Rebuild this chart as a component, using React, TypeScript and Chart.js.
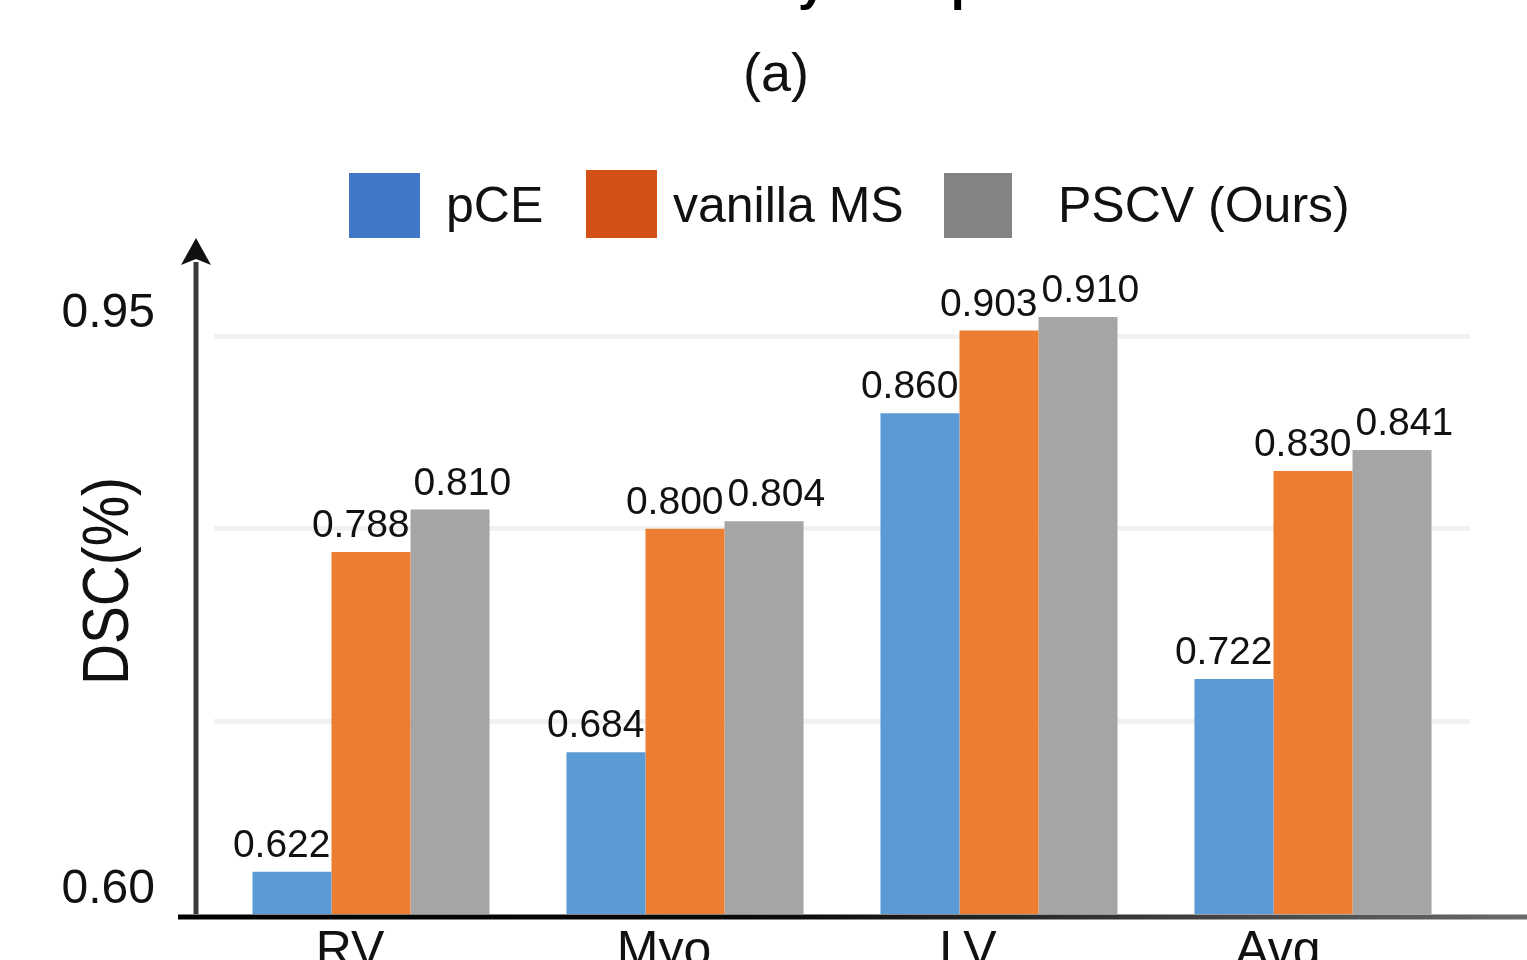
import React, { useEffect, useRef } from 'react';
import { Chart, registerables } from 'chart.js';

Chart.register(...registerables);

const categories = ['RV', 'Myo', 'LV', 'Avg'];
const pceValues = [0.622, 0.684, 0.860, 0.722];
const vanillaValues = [0.788, 0.800, 0.903, 0.830];
const pscvValues = [0.810, 0.804, 0.910, 0.841];
const seriesNames = ['pCE', 'vanilla MS', 'PSCV (Ours)'];
const yTickValues = [0.60, 0.95];
const yTickLabels = ['0.60', '0.95'];
const gridValues = [0.7, 0.8, 0.9];
const titleText = 'Accuracy Comparison';
const subtitleText = '(a)';
const yAxisTitle = 'DSC(%)';

const barColors = ['#5B9BD5', '#ED7D31', '#A5A5A5'];
const legendColors = ['#4276C6', '#D35016', '#838383'];
const FONT = '"Liberation Sans", Arial, Helvetica, sans-serif';

const decorPlugin = {
  id: 'decor',
  afterDraw(chart: any) {
    const { ctx, scales } = chart;
    const x = scales.x;
    const y = scales.y;
    ctx.save();

    // cropped title (only descenders visible)
    ctx.fillStyle = '#000';
    ctx.font = `bold 50px ${FONT}`;
    ctx.textBaseline = 'alphabetic';
    ctx.textAlign = 'left';
    const pre = ctx.measureText('Accurac').width;
    ctx.fillText(titleText, 798 - pre, 0);

    // subtitle
    ctx.font = `54px ${FONT}`;
    ctx.textAlign = 'center';
    ctx.textBaseline = 'middle';
    ctx.fillStyle = '#111';
    ctx.fillText(subtitleText, 776, 76);

    // legend
    const boxX = [349, 586, 944];
    const boxW = [71, 71, 68];
    const boxTop = [173, 170, 173];
    const textX = [446, 673, 1058];
    ctx.font = `50px ${FONT}`;
    ctx.textAlign = 'left';
    ctx.textBaseline = 'alphabetic';
    seriesNames.forEach((name, i) => {
      ctx.fillStyle = legendColors[i];
      ctx.fillRect(boxX[i], boxTop[i], boxW[i], 238 - boxTop[i]);
      ctx.fillStyle = '#111';
      ctx.fillText(name, textX[i], 222);
    });

    // y axis line with arrow
    const yBottom = y.getPixelForValue(0.6);
    const yTop = y.getPixelForValue(0.95);
    ctx.strokeStyle = '#3a3a3a';
    ctx.lineWidth = 5;
    ctx.beginPath();
    ctx.moveTo(196, yBottom);
    ctx.lineTo(196, yTop + 22);
    ctx.stroke();
    ctx.fillStyle = '#111';
    ctx.beginPath();
    ctx.moveTo(196, yTop - 2);
    ctx.lineTo(211, yTop + 25);
    ctx.lineTo(196, yTop + 19);
    ctx.lineTo(181, yTop + 25);
    ctx.closePath();
    ctx.fill();

    // x axis line with gradient
    const grad = ctx.createLinearGradient(178, 0, 1527, 0);
    grad.addColorStop(0, '#000');
    grad.addColorStop(0.45, '#0a0a0a');
    grad.addColorStop(1, '#6a6a6a');
    ctx.strokeStyle = grad;
    ctx.lineWidth = 5;
    ctx.beginPath();
    ctx.moveTo(178, yBottom + 3);
    ctx.lineTo(1527, yBottom + 3);
    ctx.stroke();

    // y tick labels (as in the reference, offset from their values)
    const tickOffsets = [-24, 74];
    ctx.font = `48px ${FONT}`;
    ctx.fillStyle = '#111';
    ctx.textAlign = 'right';
    ctx.textBaseline = 'middle';
    yTickValues.forEach((v, i) => {
      ctx.fillText(yTickLabels[i], 155, y.getPixelForValue(v) + tickOffsets[i]);
    });

    // y axis title
    ctx.save();
    ctx.translate(128, 581);
    ctx.rotate(-Math.PI / 2);
    ctx.font = `64px ${FONT}`;
    const tw = ctx.measureText(yAxisTitle).width;
    ctx.scale(208 / tw, 1);
    ctx.textAlign = 'center';
    ctx.textBaseline = 'alphabetic';
    ctx.fillStyle = '#111';
    ctx.fillText(yAxisTitle, 0, 0);
    ctx.restore();

    // x category labels
    ctx.font = `50px ${FONT}`;
    ctx.textAlign = 'center';
    ctx.textBaseline = 'alphabetic';
    ctx.fillStyle = '#111';
    const xOff = [-21, -21, -31, -35];
    categories.forEach((c, i) => {
      ctx.fillText(c, x.getPixelForTick(i) + xOff[i], 966);
    });

    // data labels
    ctx.font = `39px ${FONT}`;
    ctx.fillStyle = '#111';
    ctx.textBaseline = 'alphabetic';
    chart.data.datasets.forEach((ds: any, di: number) => {
      const meta = chart.getDatasetMeta(di);
      meta.data.forEach((bar: any, j: number) => {
        const v = ds.data[j];
        const txt = v.toFixed(3);
        const half = bar.width / 2;
        if (di < 2) {
          ctx.textAlign = 'right';
          ctx.fillText(txt, bar.x + half - 1, bar.y - 15);
        } else {
          ctx.textAlign = 'left';
          ctx.fillText(txt, bar.x - half + 3, bar.y - 15);
        }
      });
    });

    ctx.restore();
  },
};

export default function App() {
  const ref = useRef<HTMLCanvasElement | null>(null);
  useEffect(() => {
    if (!ref.current) return;
    const chart = new Chart(ref.current, {
      type: 'bar',
      data: {
        labels: categories,
        datasets: [
          { label: seriesNames[0], data: pceValues, backgroundColor: barColors[0] },
          { label: seriesNames[1], data: vanillaValues, backgroundColor: barColors[1] },
          { label: seriesNames[2], data: pscvValues, backgroundColor: barColors[2] },
        ],
      },
      options: {
        animation: false,
        responsive: false,
        maintainAspectRatio: false,
        layout: { padding: { left: 214, right: 57, top: 240, bottom: 46 } },
        datasets: { bar: { categoryPercentage: 0.755, barPercentage: 1.0 } },
        plugins: {
          legend: { display: false },
          title: { display: false },
          tooltip: { enabled: false },
        },
        scales: {
          x: {
            display: true,
            grid: { display: false, drawTicks: false },
            border: { display: false },
            ticks: { display: false },
          },
          y: {
            display: true,
            min: 0.6,
            max: 0.95,
            afterBuildTicks: (axis: any) => {
              axis.ticks = gridValues.map((v) => ({ value: v }));
            },
            grid: { color: '#f1f1f1', lineWidth: 5, drawTicks: false },
            border: { display: false },
            ticks: { display: false },
          },
        },
      },
      plugins: [decorPlugin],
    });
    return () => chart.destroy();
  }, []);
  return (
    <div style={{ position: 'absolute', left: 0, top: 0, width: 1527, height: 960, background: '#fff' }}>
      <canvas ref={ref} width={1527} height={960} style={{ width: 1527, height: 960 }} />
    </div>
  );
}
